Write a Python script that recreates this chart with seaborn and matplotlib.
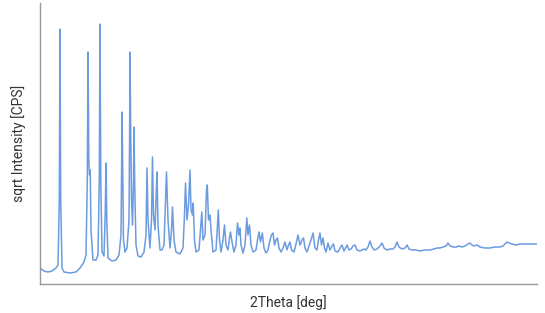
import matplotlib
matplotlib.use("Agg")
import matplotlib.pyplot as plt
import seaborn as sns
import pandas as pd

two_theta = [0.0, 0.4, 0.8, 1.2, 1.6, 1.8, 1.93, 2.0, 2.07, 2.2, 2.4, 3.0, 3.6, 4.0, 4.4, 4.6,
             4.73, 4.8, 4.88, 4.95, 5.02, 5.1, 5.3, 5.6, 5.8, 5.93, 6.0, 6.08, 6.2, 6.4, 6.53,
             6.6, 6.68, 6.8, 7.2, 7.6, 7.9, 8.1, 8.18, 8.2, 8.25, 8.35, 8.5, 8.7, 8.9, 8.97,
             9.0, 9.06, 9.15, 9.25, 9.35, 9.4, 9.48, 9.6, 9.8, 10.1, 10.4, 10.6, 10.7, 10.8,
             11.0, 11.15, 11.25, 11.35, 11.5, 11.63, 11.7, 11.8, 12.0, 12.2, 12.4, 12.55,
             12.65, 12.8, 13.0, 13.15, 13.25, 13.4, 13.6, 14.0, 14.3, 14.45, 14.55, 14.7,
             14.85, 15.0, 15.1, 15.25, 15.32, 15.45, 15.6, 15.9, 16.05, 16.18, 16.3, 16.5,
             16.65, 16.73, 16.85, 17.0, 17.1, 17.3, 17.6, 17.75, 17.83, 17.95, 18.1, 18.3,
             18.45, 18.6, 18.8, 18.95, 19.05, 19.2, 19.4, 19.6, 19.75, 19.9, 20.0, 20.1,
             20.3, 20.5, 20.68, 20.8, 20.95, 21.1, 21.3, 21.6, 21.75, 21.9, 22.05, 22.23,
             22.4, 22.6, 22.8, 23.0, 23.15, 23.3, 23.45, 23.6, 23.75, 23.9, 24.1, 24.3,
             24.5, 24.7, 24.85, 25.0, 25.15, 25.4, 25.6, 25.8, 26.0, 26.2, 26.35, 26.5,
             26.7, 26.9, 27.1, 27.3, 27.5, 27.7, 27.85, 28.0, 28.15, 28.3, 28.45, 28.6,
             28.8, 29.0, 29.2, 29.35, 29.5, 29.8, 30.0, 30.2, 30.4, 30.7, 30.9, 31.1, 31.3,
             31.5, 31.7, 32.0, 32.2, 32.4, 32.6, 32.8, 33.0, 33.2, 33.4, 33.7, 34.0, 34.2,
             34.4, 34.7, 35.0, 35.3, 35.5, 35.7, 35.9, 36.2, 36.5, 36.7, 36.9, 37.2, 37.6,
             38.0, 38.5, 39.0, 39.4, 39.7, 40.0, 40.3, 40.6, 40.8, 41.0, 41.3, 41.6, 41.9,
             42.2, 42.5, 42.8, 43.0, 43.2, 43.4, 43.7, 44.0, 44.5, 45.0, 45.5, 46.0, 46.3,
             46.5, 46.7, 46.9, 47.2, 47.6, 48.0, 48.5, 49.0, 49.7]

sqrt_intensity = [16, 13, 12, 13, 16, 19, 84, 255, 84, 16, 12, 11, 12, 16, 22, 29,
                  104, 232, 124, 109, 114, 54, 24, 24, 29, 104, 260, 104, 32, 28, 74,
                  121, 64, 26, 23, 24, 29, 49, 134, 172, 134, 44, 32, 36, 64, 164,
                  232, 164, 84, 59, 104, 157, 94, 39, 28, 27, 32, 49, 116, 64,
                  36, 64, 127, 69, 54, 94, 112, 59, 34, 34, 39, 84,
                  112, 64, 36, 54, 77, 44, 32, 30, 36, 69, 101, 64,
                  79, 114, 74, 69, 81, 44, 32, 34, 54, 72, 44, 49,
                  94, 99, 64, 69, 54, 32, 34, 59, 74, 44, 32, 44,
                  59, 39, 34, 46, 52, 42, 32, 39, 61, 49, 56, 39,
                  31, 39, 66, 49, 59, 39, 32, 34, 44, 52, 42, 51,
                  36, 31, 34, 44, 49, 51, 39, 44, 46, 36, 32, 36,
                  42, 34, 39, 42, 34, 32, 40, 49, 39, 44, 46, 36,
                  32, 38, 44, 51, 36, 34, 44, 51, 39, 46, 36, 32,
                  41, 34, 38, 40, 33, 32, 36, 39, 33, 39, 34, 35, 38,
                  39, 34, 33, 34, 35, 34, 37, 43, 37, 34, 35, 38, 41,
                  36, 34, 35, 35, 37, 42, 37, 35, 36, 39, 35, 34, 34,
                  33, 34, 34, 35, 36, 36, 37, 38, 41, 38, 37, 37, 38,
                  37, 38, 40, 41, 39, 38, 39, 37, 36, 36, 37, 37, 38,
                  40, 42, 41, 40, 39, 40, 40, 40, 40]

df = pd.DataFrame({"two_theta": two_theta, "sqrt_intensity": sqrt_intensity})

sns.set_theme(style="white")
plt.rcParams["font.family"] = ["Roboto", "DejaVu Sans"]

fig = plt.figure(figsize=(5.45, 3.13), dpi=100)
ax = fig.add_axes([40 / 545, 29 / 313, 497 / 545, 281 / 313])

sns.lineplot(data=df, x="two_theta", y="sqrt_intensity", ax=ax, sort=False,
             estimator=None, color="#6b9be0", linewidth=1.1)

ax.set_xlim(0, 49.7)
ax.set_ylim(0, 281)
ax.set_xticks([])
ax.set_yticks([])
ax.set_xlabel("2Theta [deg]", fontsize=10, color="#333333", labelpad=8)
ax.set_ylabel("sqrt Intensity [CPS]", fontsize=10, color="#333333", labelpad=10)
for side in ["top", "right"]:
    ax.spines[side].set_visible(False)
for side in ["left", "bottom"]:
    ax.spines[side].set_color("#999999")
    ax.spines[side].set_linewidth(1.0)

fig.savefig("out.png", dpi=100)
